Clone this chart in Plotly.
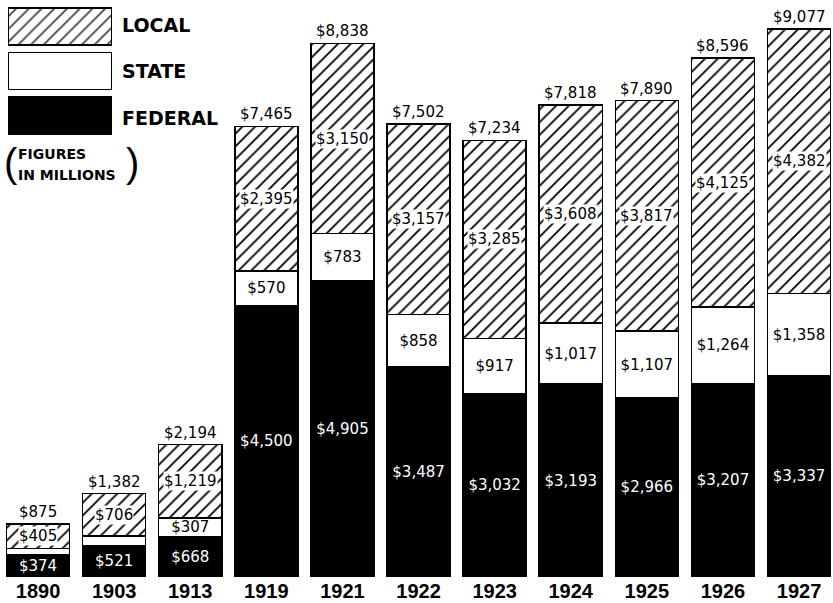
import plotly.graph_objects as go

years = ["1890", "1903", "1913", "1919", "1921", "1922", "1923", "1924", "1925", "1926", "1927"]
federal = [374, 521, 668, 4500, 4905, 3487, 3032, 3193, 2966, 3207, 3337]
state = [96, 155, 307, 570, 783, 858, 917, 1017, 1107, 1264, 1358]
local = [405, 706, 1219, 2395, 3150, 3157, 3285, 3608, 3817, 4125, 4382]
totals = [875, 1382, 2194, 7465, 8838, 7502, 7234, 7818, 7890, 8596, 9077]

FONT = "DejaVu Sans"
YFONT = "Liberation Sans"
W, H = 833, 603
T, B = 0, 26
PH = H - T - B

def money(v):
    return "${:,}".format(v)

fig = go.Figure()
line = dict(color="black", width=1.5)
hatch = dict(shape="/", fgcolor="black", bgcolor="white", size=9, solidity=0.2, fgopacity=1)
fig.add_trace(go.Bar(
    x=years, y=federal, name="FEDERAL",
    marker=dict(color="black", line=line),
    text=[money(v) for v in federal], textposition="inside",
    insidetextanchor="middle", textangle=0,
    textfont=dict(color="white", size=15, family=FONT),
    constraintext="none", showlegend=False,
))
fig.add_trace(go.Bar(
    x=years, y=state, name="STATE",
    marker=dict(color="white", line=line),
    text=[money(v) if v > 200 else "" for v in state], textposition="inside",
    insidetextanchor="middle", textangle=0,
    textfont=dict(color="black", size=15, family=FONT),
    constraintext="none", showlegend=False,
))
fig.add_trace(go.Bar(
    x=years, y=local, name="LOCAL",
    marker=dict(color="white", line=line, pattern=hatch),
    showlegend=False,
))

annotations = []
for i, (f, s, l, t) in enumerate(zip(federal, state, local, totals)):
    annotations.append(dict(x=i, y=f + s + l / 2, text=money(l), showarrow=False,
                            font=dict(size=15, color="black", family=FONT),
                            bgcolor="white", borderpad=0))
    annotations.append(dict(x=i, y=t, text=money(t), showarrow=False, yanchor="bottom", yshift=1,
                            font=dict(size=15, color="black", family=FONT)))

# legend drawn as a small horizontal bar chart on its own axes
leg_names = ["FEDERAL", "STATE", "LOCAL"]
fig.add_trace(go.Bar(
    y=leg_names, x=[1, 1, 1], orientation="h", xaxis="x2", yaxis="y2",
    marker=dict(color=["black", "white", "white"], line=line,
                pattern=dict(shape=["", "", "/"], fgcolor="black", size=9, solidity=0.2, fgopacity=1)),
    showlegend=False, hoverinfo="skip",
))

def py(px):
    return 1 - (px - T) / PH

def paper_text(x, y, text, size, family=FONT):
    return dict(xref="paper", yref="paper", x=x / W, y=py(y), xanchor="left", yanchor="middle",
                text=text, showarrow=False, font=dict(size=size, color="black", family=family))

for name, ypx in zip(["LOCAL", "STATE", "FEDERAL"], [25, 71, 118]):
    annotations.append(paper_text(120, ypx, "<b>" + name + "</b>", 19))
annotations.append(paper_text(16, 154, "<b>FIGURES</b>", 14))
annotations.append(paper_text(16, 175, "<b>IN MILLIONS</b>", 14))
annotations.append(paper_text(2, 163, "(", 40, YFONT))
annotations.append(paper_text(124, 163, ")", 40, YFONT))

STEP = 76.1
r0 = -0.5
r1 = r0 + W / STEP
fig.update_layout(
    width=W, height=H,
    margin=dict(l=0, r=0, t=T, b=B, autoexpand=False),
    barmode="stack", bargap=0.17,
    paper_bgcolor="white", plot_bgcolor="white",
    annotations=annotations,
    xaxis=dict(type="category", range=[r0, r1], showgrid=False, showline=False,
               ticks="", zeroline=False, automargin=False, ticklabelstandoff=0,
               tickfont=dict(size=20, color="black", family=YFONT, weight="bold")),
    yaxis=dict(range=[0, PH / (548 / 9077)], visible=False, showgrid=False),
    xaxis2=dict(domain=[8 / W, 112 / W], range=[0, 1], visible=False, anchor="y2"),
    yaxis2=dict(domain=[py(138), py(4)], visible=False, anchor="x2", type="category",
                categoryorder="array", categoryarray=leg_names),
    bargroupgap=0,
)
fig.write_html("out.html", config={"displayModeBar": False},
               post_script="document.body.style.margin='0px';")
